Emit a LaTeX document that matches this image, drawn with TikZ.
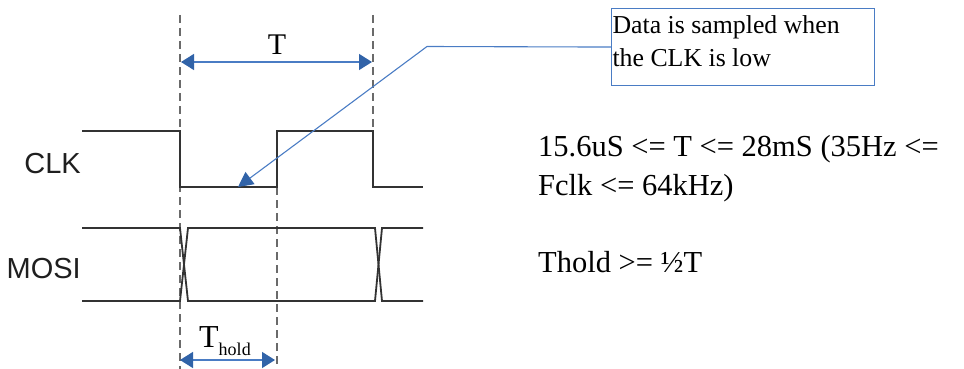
\documentclass[tikz,border=0pt]{standalone}
\usepackage{fontspec}
\setmainfont{Liberation Serif}
\newfontfamily\arialfont{Liberation Sans}
\usetikzlibrary{arrows.meta}
\definecolor{sig}{HTML}{333333}
\definecolor{dash}{HTML}{6A6A6A}
\definecolor{bline}{HTML}{4A7CC4}
\definecolor{btip}{HTML}{3163A8}
\tikzset{
  wave/.style={draw=sig, line width=1.8pt, line join=miter},
  guide/.style={draw=dash, line width=1.4pt, dash pattern=on 8pt off 5pt},
  dim/.style={draw=bline, line width=1.4pt, {Triangle[length=13pt,width=16pt,color=btip]}-{Triangle[length=13pt,width=16pt,color=btip]}},
  callout/.style={draw=bline, line width=1.1pt, -{Triangle[length=15pt,width=15pt,color=btip]}},
  siglabel/.style={font=\arialfont\fontsize{29}{29}\selectfont, text=black!88, inner sep=0pt, anchor=east},
  serif/.style={font=\fontsize{30.5}{38.5}\selectfont, inner sep=0pt, anchor=base west, align=left},
}
\begin{document}
\begin{tikzpicture}[x=1pt,y=-1pt]
\useasboundingbox (0,0) rectangle (964,369);
% guide coordinates
\coordinate (g1t) at (180,15);
\coordinate (g1b) at (180,369);
\coordinate (g2t) at (277,187);
\coordinate (g2b) at (277,368);
\coordinate (g3t) at (373,15);
\coordinate (g3b) at (373,131);
\draw[guide] (g1t) -- (g1b);
\draw[guide] (g2t) -- (g2b);
\draw[guide] (g3t) -- (g3b);
% CLK
\draw[wave] (82,131) -- (180,131) -- (180,187) -- (277,187) -- (277,131) -- (373,131) -- (373,187) -- (423,187);
% MOSI
\draw[wave] (82,228) -- (180,228) -- (188,301) -- (375,301) -- (382,228) -- (423,228);
\draw[wave] (82,301) -- (180,301) -- (188,228) -- (375,228) -- (382,301) -- (423,301);
% labels
\node[siglabel] (clk) at (81,163.5) {CLK};
\node[siglabel] (mosi) at (81,268.5) {MOSI};
% T dimension
\coordinate (ta) at (181,62);
\coordinate (tb) at (372,62);
\draw[dim] (ta) -- (tb);
\node[font=\fontsize{30}{30}\selectfont, inner sep=0pt, anchor=base] (tlab) at (277,55) {T};
% Thold dimension
\coordinate (ha) at (180,360);
\coordinate (hb) at (275,360);
\draw[dim] (ha) -- (hb);
\node[font=\fontsize{32}{32}\selectfont, inner sep=0pt, anchor=base west] (thold) at (199,347) {T\raisebox{-8pt}{\fontsize{18}{18}\selectfont hold}};
% callout
\node[draw=bline, line width=1.1pt, anchor=north west, inner xsep=1pt, inner ysep=7pt, font=\fontsize{25.8}{33}\selectfont] (box) at (611,8) {\parbox[t][63pt][t]{261pt}{\raggedright Data is sampled when\\the CLK is low}};
\coordinate (bend) at (427,46.5);
\coordinate (sample) at (238,187);
\draw[callout] (box.west) -- (bend) -- (sample);
% text
\node[serif] (eq1) at (538,195) {15.6uS <= T <= 28mS (35Hz <=\\Fclk <= 64kHz)};
\node[serif] (eq2) at (538,272) {Thold >= ½T};
\end{tikzpicture}
\end{document}
